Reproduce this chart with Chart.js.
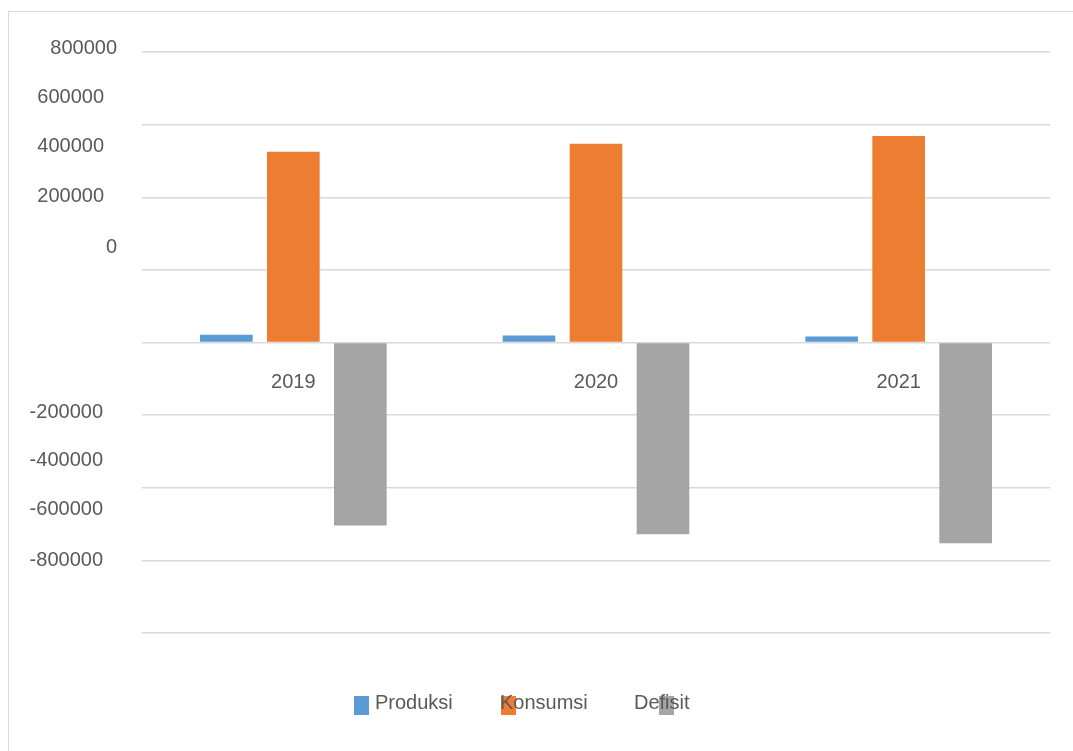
<!DOCTYPE html>
<html>
<head>
<meta charset="utf-8">
<script src="https://cdn.jsdelivr.net/npm/chart.js@4.4.1/dist/chart.umd.min.js"></script>
<style>
  html, body { margin: 0; padding: 0; background: #ffffff; overflow: hidden; }
  #wrap { position: relative; width: 1073px; height: 751px; }
  #frame { position: absolute; left: 8px; top: 11px; width: 1100px; height: 800px;
           border-left: 1.5px solid #d9d9d9; border-top: 1.5px solid #d9d9d9; }
  canvas { position: absolute; left: 0; top: 0; }
</style>
</head>
<body>
<div id="wrap">
  <div id="frame"></div>
  <canvas id="c" width="1073" height="751"></canvas>
</div>
<script>
// ---- data ----
const categories = ['2019', '2020', '2021'];
const produksi = [21000, 19000, 16500];
const konsumsi = [525000, 547000, 569000];
const defisit = [-504000, -528000, -553000];
const seriesNames = ['Produksi', 'Konsumsi', 'Defisit'];
const yTickLabels = ['800000', '600000', '400000', '200000', '0', '-200000', '-400000', '-600000', '-800000'];

// ---- layout / style ----
const FONT = '"Liberation Sans", Arial, sans-serif';
const TEXT = '#595959';
const colors = ['#5b9bd5', '#ed7d31', '#a5a5a5'];
// y label placement (as rendered in the reference): centre y and right edge
const yLabelCenters = [48, 97, 146, 196, 247, 412, 460, 509, 560];
const yLabelRight = [117, 104, 104, 104, 117, 103, 103, 103, 103];
// legend placement
const legendBoxX = [354, 501, 659];
const legendTextX = [375, 500, 634];
const legendBoxY = 696, legendBoxW = 15, legendBoxH = 19, legendTextY = 703;

const yLabelsPlugin = {
  id: 'yLabels',
  afterDraw(chart) {
    const ctx = chart.ctx;
    ctx.save();
    ctx.font = '20px ' + FONT;
    ctx.fillStyle = TEXT;
    ctx.textAlign = 'right';
    ctx.textBaseline = 'middle';
    yTickLabels.forEach((t, i) => ctx.fillText(t, yLabelRight[i], yLabelCenters[i]));
    ctx.restore();
  }
};

const legendPlugin = {
  id: 'customLegend',
  afterDraw(chart) {
    const ctx = chart.ctx;
    ctx.save();
    ctx.font = '20px ' + FONT;
    ctx.textAlign = 'left';
    ctx.textBaseline = 'middle';
    chart.data.datasets.forEach((ds, i) => {
      ctx.fillStyle = ds.backgroundColor;
      ctx.fillRect(legendBoxX[i], legendBoxY, legendBoxW, legendBoxH);
    });
    chart.data.datasets.forEach((ds, i) => {
      ctx.fillStyle = TEXT;
      ctx.fillText(ds.label, legendTextX[i], legendTextY);
    });
    ctx.restore();
  }
};

const seriesData = [produksi, konsumsi, defisit];

new Chart(document.getElementById('c'), {
  type: 'bar',
  data: {
    labels: categories,
    datasets: seriesNames.map((name, i) => ({
      label: name,
      data: seriesData[i],
      backgroundColor: colors[i],
      borderWidth: 0,
      categoryPercentage: 0.664,
      barPercentage: 0.786
    }))
  },
  options: {
    responsive: false,
    animation: false,
    layout: { padding: { left: 142, right: 23, top: 52, bottom: 118 } },
    plugins: { legend: { display: false }, tooltip: { enabled: false } },
    scales: {
      x: {
        position: { y: 0 },
        grid: { display: false, drawTicks: false },
        border: { display: false },
        ticks: { color: TEXT, font: { family: FONT, size: 20 }, padding: 28 }
      },
      y: {
        min: -800000,
        max: 800000,
        grid: { color: '#d9d9d9', lineWidth: 1.5, drawTicks: false },
        border: { display: false },
        ticks: { display: false, stepSize: 200000 },
        afterFit: (s) => { s.width = 0; }
      }
    }
  },
  plugins: [yLabelsPlugin, legendPlugin]
});
</script>
</body>
</html>
